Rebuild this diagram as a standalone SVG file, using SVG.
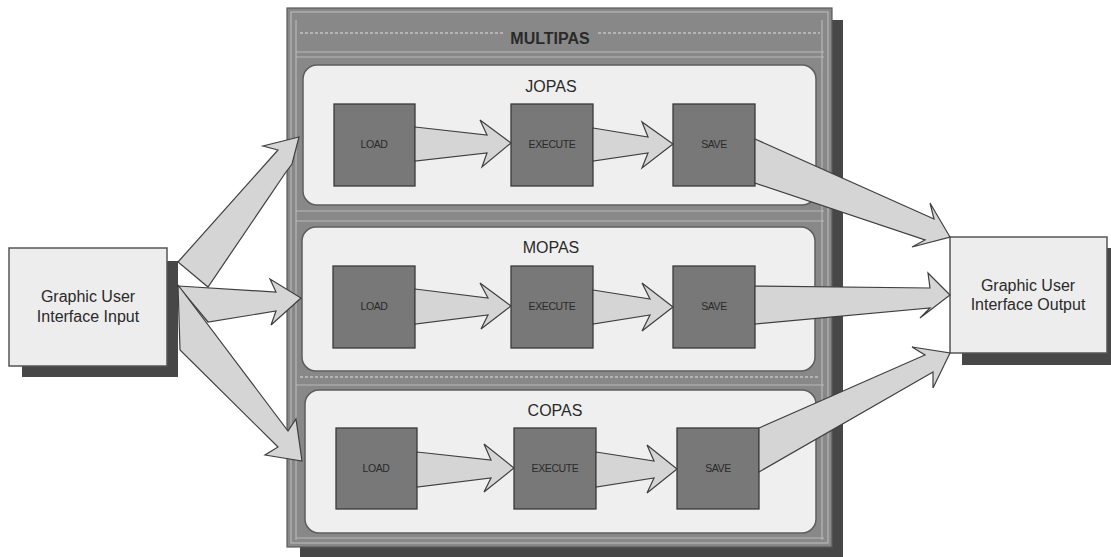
<svg xmlns="http://www.w3.org/2000/svg" width="1111" height="557" viewBox="0 0 1111 557">
<style>
.shadow{fill:#474747}
.frame{fill:#888888;stroke:#5a5a5a;stroke-width:1.2}
.fline{fill:none;stroke:#b8b8b8;stroke-width:1.2}
.fdash{fill:none;stroke:#c4c4c4;stroke-width:1.5;stroke-dasharray:3 2}
.panel{fill:#efefef;stroke:#5e5e5e;stroke-width:1.5}
.box{fill:#787878;stroke:#3a3a3a;stroke-width:1.3}
.io{fill:#ededed;stroke:#555;stroke-width:1.5}
.arrow{fill:#d5d5d5;stroke:#3f3f3f;stroke-width:1.2;stroke-linejoin:miter}
.t{font-family:"Liberation Sans",Arial,sans-serif;fill:#2a2a2a;text-anchor:middle}
.title{font-size:16px}
.big{font-size:16px;font-weight:bold}
.small{font-size:10.5px;letter-spacing:-0.4px}
.io-t{font-size:16px}
</style>

<g id="multipas">
  <rect class="shadow" x="832" y="20" width="11" height="537"/>
  <rect class="shadow" x="300" y="547" width="543" height="10"/>
  <rect class="frame" x="287" y="8" width="545" height="539"/>
  <rect class="fline" x="291" y="12" width="537" height="531"/>
  <line class="fdash" x1="300" y1="33" x2="503" y2="33"/>
  <line class="fdash" x1="598" y1="33" x2="820" y2="33"/>
  <line class="fline" x1="296" y1="52" x2="824" y2="52"/>
  <line class="fline" x1="296" y1="57" x2="824" y2="57"/>
  <line class="fline" x1="296" y1="211" x2="824" y2="211"/>
  <line class="fline" x1="296" y1="221" x2="824" y2="221"/>
  <line class="fdash" x1="300" y1="377" x2="820" y2="377"/>
  <line class="fline" x1="296" y1="385" x2="824" y2="385"/>
  <line class="fline" x1="296" y1="538" x2="824" y2="538"/>
  <line class="fline" x1="296" y1="20" x2="296" y2="540"/>
  <line class="fline" x1="822" y1="20" x2="822" y2="540"/>
  <text class="t big" x="550" y="44">MULTIPAS</text>
</g>

<g id="jopas">
  <rect class="panel" x="303" y="65" width="513" height="140" rx="14"/>
  <text class="t title" x="551" y="92">JOPAS</text>
</g>
<g id="mopas">
  <rect class="panel" x="302" y="227" width="513" height="144" rx="14"/>
  <text class="t title" x="551" y="253">MOPAS</text>
</g>
<g id="copas">
  <rect class="panel" x="305" y="390" width="511" height="143" rx="14"/>
  <text class="t title" x="555" y="416">COPAS</text>
</g>

<g id="jopas-load"><rect class="box" x="334" y="104" width="81" height="82"/><text class="t small" x="374" y="148">LOAD</text></g>
<g id="jopas-execute"><rect class="box" x="511" y="104" width="82" height="82"/><text class="t small" x="552" y="148">EXECUTE</text></g>
<g id="jopas-save"><rect class="box" x="673" y="104" width="82" height="82"/><text class="t small" x="714" y="148">SAVE</text></g>

<g id="mopas-load"><rect class="box" x="333" y="266" width="82" height="82"/><text class="t small" x="374" y="310">LOAD</text></g>
<g id="mopas-execute"><rect class="box" x="511" y="266" width="82" height="82"/><text class="t small" x="552" y="310">EXECUTE</text></g>
<g id="mopas-save"><rect class="box" x="673" y="266" width="82" height="82"/><text class="t small" x="714" y="310">SAVE</text></g>

<g id="copas-load"><rect class="box" x="336" y="428" width="81" height="81"/><text class="t small" x="376" y="472">LOAD</text></g>
<g id="copas-execute"><rect class="box" x="514" y="428" width="82" height="81"/><text class="t small" x="555" y="472">EXECUTE</text></g>
<g id="copas-save"><rect class="box" x="677" y="428" width="82" height="81"/><text class="t small" x="718" y="472">SAVE</text></g>

<g id="gui-input">
  <rect class="shadow" x="22" y="261" width="156" height="116"/>
  <rect class="io" x="9" y="248" width="158" height="118"/>
  <text class="t io-t" x="88" y="302">Graphic User</text>
  <text class="t io-t" x="88" y="322">Interface Input</text>
</g>

<g id="gui-output">
  <rect class="shadow" x="962" y="248" width="149" height="117"/>
  <rect class="io" x="950" y="237" width="157" height="116"/>
  <text class="t io-t" x="1028" y="291">Graphic User</text>
  <text class="t io-t" x="1028" y="310">Interface Output</text>
</g>

<g id="connectors">
  <polygon class="arrow" points="178,262 278,150 263,146 299,137 292,164 286,172 208,287"/>
  <polygon class="arrow" points="178,286 276,292 270,279 301,298 271,325 276,311 208,322"/>
  <polygon class="arrow" points="178,285 288,431 296,419 302,461 265,455 278,447 180,350"/>
  <polygon class="arrow" points="415,127 487,135 480,120 511,143 482,167 487,153 415,161"/>
  <polygon class="arrow" points="593,128 648,137 642,122 673,144 642,168 648,153 593,161"/>
  <polygon class="arrow" points="415,289 488,298 480,283 511,306 481,329 488,315 415,324"/>
  <polygon class="arrow" points="593,290 650,299 642,283 673,307 642,331 650,315 593,324"/>
  <polygon class="arrow" points="417,452 491,460 484,444 514,468 484,492 491,478 417,487"/>
  <polygon class="arrow" points="596,452 654,461 647,445 677,469 647,493 654,478 596,487"/>
  <polygon class="arrow" points="755,139 934,219 930,203 950,237 912,247 925,240 755,183"/>
  <polygon class="arrow" points="755,286 930,288 928,273 950,295 920,318 930,308 755,324"/>
  <polygon class="arrow" points="759,428 925,355 912,347 950,353 933,388 933,372 759,472"/>
</g>
</svg>
